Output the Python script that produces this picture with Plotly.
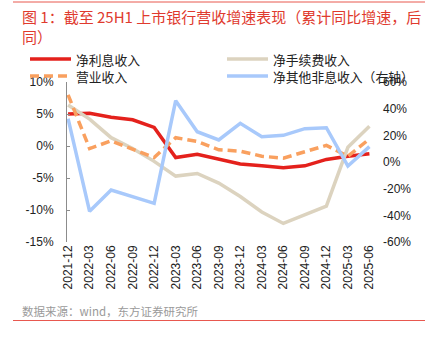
import plotly.graph_objects as go

# Reporting periods (cumulative YoY growth)
periods = ["2021-12", "2022-03", "2022-06", "2022-09", "2022-12",
           "2023-03", "2023-06", "2023-09", "2023-12", "2024-03",
           "2024-06", "2024-09", "2024-12", "2025-03", "2025-06"]

# Left axis series (%)
net_interest = [5.0, 5.1, 4.5, 4.1, 2.9, -1.8, -1.3, -2.1, -2.8, -3.1,
                -3.4, -3.1, -2.1, -1.6, -1.2]
net_fee = [6.4, 4.2, 1.3, -0.4, -2.4, -4.7, -4.3, -5.8, -7.9, -10.3,
           -12.1, -10.8, -9.4, -0.2, 3.1]
revenue = [8.0, -0.4, 0.8, -0.5, -1.8, 1.3, 0.7, -0.6, -0.8, -1.6,
           -1.9, -0.9, 0.1, -1.6, 1.1]
# Right axis series (%)
other_non_interest = [32.5, -37, -21, -26, -31, 46, 22.7, 16.5, 29, 19,
                      20, 25, 25.7, -3, 11.5]

left_ticks = [10, 5, 0, -5, -10, -15]
right_ticks = [60, 40, 20, 0, -20, -40, -60]

RED = "#e4211c"
BEIGE = "#dcd3bf"
ORANGE = "#f9a05f"
BLUE = "#a8c9fb"
GREY_AXIS = "#8c8c8c"
TEXT = "#222222"
FONT = "Liberation Sans, Noto Sans CJK SC, sans-serif"
CJK = "Noto Sans CJK SC, sans-serif"

W, H = 434, 344
L, R, T, B = 67, 62, 82, 102
PW, PH = W - L - R, H - T - B


def px(x):
    return (x - L) / PW


def py(y):
    return (H - B - y) / PH


series = [
    ("净利息收入", net_interest, dict(color=RED, width=3.5), "y"),
    ("净手续费收入", net_fee, dict(color=BEIGE, width=3.5), "y"),
    ("营业收入", revenue, dict(color=ORANGE, width=3.5, dash="9px,5px"), "y"),
    ("净其他非息收入（右轴）", other_non_interest,
     dict(color=BLUE, width=3.5), "y2"),
]

fig = go.Figure()
for name, vals, line, ax in series:
    fig.add_trace(go.Scatter(x=periods, y=vals, name=name, mode="lines",
                             line=line, yaxis=ax, showlegend=False))

xr = [-0.05, 14.12]
ylo, yhi = -15, 10
zero_pos = (0 - ylo) / (yhi - ylo)

fig.update_layout(
    width=W, height=H,
    margin=dict(l=L, r=R, t=T, b=B),
    paper_bgcolor="white", plot_bgcolor="white",
    font=dict(family=FONT, size=12, color=TEXT),
    showlegend=False,
    xaxis=dict(type="category", range=xr, showline=False, showgrid=False,
               ticks="", tickangle=-90, tickfont=dict(size=12, color=TEXT),
               zeroline=False),
    xaxis2=dict(overlaying="x", anchor="free", position=zero_pos,
                range=xr, tickmode="linear", tick0=0, dtick=1,
                showticklabels=False, showgrid=False, zeroline=False,
                showline=True, linecolor=GREY_AXIS, linewidth=1.5,
                ticks="inside", ticklen=4, tickcolor=GREY_AXIS),
    yaxis=dict(range=[ylo, yhi], tickvals=left_ticks,
               ticktext=[f"{v}%" for v in left_ticks],
               showgrid=False, zeroline=False, showline=True,
               linecolor=GREY_AXIS, linewidth=1, ticks="inside", ticklen=3,
               tickcolor=GREY_AXIS, ticklabelstandoff=10,
               tickfont=dict(size=12, color=TEXT)),
    yaxis2=dict(range=[-60, 60], tickvals=right_ticks,
                ticktext=[f"{v}%" for v in right_ticks],
                overlaying="y", side="right", showgrid=False,
                zeroline=False, showline=False, ticks="",
                ticklabelstandoff=10, tickfont=dict(size=12, color=TEXT)),
)

# Legend: two columns, two rows, drawn from the series definitions
legend_slots = [(30, 59), (227, 59), (30, 76), (227, 76)]
for (name, _, line, _), (lx, ly) in zip(series, legend_slots):
    fig.add_shape(type="line", xref="paper", yref="paper",
                  x0=px(lx), x1=px(lx + 41), y0=py(ly), y1=py(ly),
                  line=line)
    fig.add_annotation(xref="paper", yref="paper", x=px(lx + 45),
                       y=py(ly + 0.5), xanchor="left", yanchor="middle",
                       showarrow=False, text=name, borderpad=0,
                       font=dict(family=CJK, size=12.8, color=TEXT))

# Title (wraps onto two lines)
fig.add_annotation(xref="paper", yref="paper", x=px(20), y=py(4),
                   xanchor="left", yanchor="top", align="left",
                   showarrow=False,
                   text="图 1：截至 25H1 上市银行营收增速表现（累计同比增速，后<br>同）",
                   font=dict(family=CJK, size=15, color="#e03a2e"))

# Source note
fig.add_annotation(xref="paper", yref="paper", x=px(20), y=py(311),
                   xanchor="left", yanchor="middle", showarrow=False,
                   text="数据来源：wind，东方证券研究所",
                   font=dict(family=CJK, size=11.5, color="#9a9a9a"))

# Red rules at the top and bottom of the exhibit
for yy in (2, 320.5):
    fig.add_shape(type="line", xref="paper", yref="paper",
                  x0=px(13), x1=px(425), y0=py(yy), y1=py(yy),
                  line=dict(color="#e8584f", width=1))

fig.write_html("out.html")
